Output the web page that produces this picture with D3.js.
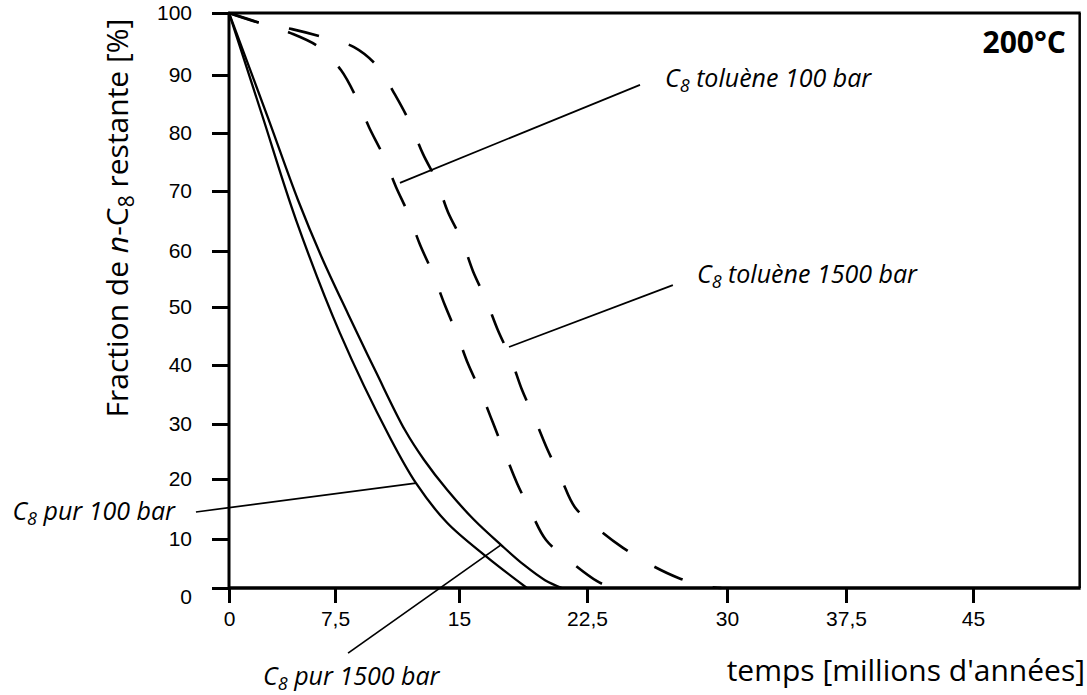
<!DOCTYPE html>
<html><head><meta charset="utf-8">
<script src="https://cdn.jsdelivr.net/npm/d3@7"></script>
<style>body{margin:0;background:#fff}svg{display:block}</style>
</head><body><svg id="c" width="1087" height="695"></svg>
<script>
// ---- data ----
const xTicks = [0, 7.5, 15, 22.5, 30, 37.5, 45];
const yTicks = [0, 10, 20, 30, 40, 50, 60, 70, 80, 90, 100];
const xMax = 51.3;
// C8 pur 1500 bar (left solid)
const purA = [[0,100],[2.34,83.1],[4.74,65.2],[7.8,45.5],[10.83,27.5],[12.4,19.3],[14.28,12.7],[16.64,6.3],[18.98,0]];
// C8 pur 100 bar (right solid)
const purB = [[0,100],[2.76,82.6],[4.88,68.5],[6.58,58.75],[8.29,48.8],[9.98,38.8],[11.73,28.9],[12.88,23.5],[14.28,18.2],[15.88,13.2],[17.46,8.8],[18.81,4.7],[20.04,1.6],[21.03,0]];
// C8 toluène 100 bar (left dashed)
const tolA = [[0,100],[2.19,98.4],[4.32,96.8],[6.37,94.5],[7.86,90.8],[8.77,86.2],[9.56,81.0],[10.4,76.2],[11.19,70.7],[11.92,66.3],[12.65,61],[13.43,55.9],[14.15,50.3],[14.88,45.3],[15.53,40.2],[16.29,35.3],[16.99,30.2],[17.69,24.7],[18.4,19.3],[19.22,14.5],[20.1,9.8],[21.5,5.5],[23.04,1.4],[23.84,0]];
// C8 toluène 1500 bar (right dashed)
const tolB = [[0,100],[2.19,98.4],[4.46,97.4],[6.65,96.1],[8.65,94.5],[10.1,91.3],[11.13,86.6],[12.04,81.7],[12.82,76.4],[13.67,71.6],[14.33,66.5],[15.18,61.7],[15.82,56.4],[16.58,51.3],[17.28,46.0],[18.05,41.0],[18.69,35.8],[19.45,30.8],[20.15,25.6],[20.97,20.2],[21.79,15.3],[23.09,11.7],[24.43,8.2],[25.93,4.7],[27.43,2.0],[28.8,0.4],[29.7,0]];
// annotations
const labels = [
  {pre:"C", sub:"8", post:" toluène 100 bar", from:[11.43,71.4], to:[25.34,88.3], at:[26.68,87.9], anchor:"start"},
  {pre:"C", sub:"8", post:" toluène 1500 bar", from:[17.93,43.1], to:[27.1,53.9], at:[28.39,54.3], anchor:"start"},
  {pre:"C", sub:"8", post:" pur 100 bar", from:[12.4,19.3], to:[-2.34,14.5], at:[-3.82,13.2], anchor:"end"},
  {pre:"C", sub:"8", post:" pur 1500 bar", from:[17.46,8.8], to:[8.29,-13.3], at:[2.41,-19.8], anchor:"start"}
];

// ---- scales ----
const x = d3.scaleLinear().domain(xTicks).range([229, 335, 459, 587, 727, 846, 973]);
const y = d3.scaleLinear().domain(yTicks).range([588, 539, 479, 424, 365, 307, 251, 191, 133, 75, 13]);

const svg = d3.select('#c');
const tickFont = '"Liberation Sans", Arial, sans-serif';
const labFont = '"Open Sans", "Noto Sans", sans-serif';

// axes
const gx = svg.append('g').attr('transform', `translate(0,${y(0)})`)
  .call(d3.axisBottom(x).tickValues(xTicks).tickSize(15).tickPadding(8)
    .tickFormat(d => String(d).replace('.', ',')));
gx.select('.domain').remove();
gx.selectAll('line').attr('stroke', '#000').attr('stroke-width', 3);
gx.selectAll('text').attr('font-family', tickFont).attr('font-size', 21).attr('fill', '#000');

const gy = svg.append('g').attr('transform', `translate(${x(0)},0)`)
  .call(d3.axisLeft(y).tickValues(yTicks).tickSize(17).tickPadding(20));
gy.select('.domain').remove();
gy.selectAll('line').attr('stroke', '#000').attr('stroke-width', 3);
gy.selectAll('text').attr('font-family', tickFont).attr('font-size', 21).attr('fill', '#000')
  .attr('dy', d => d === 0 ? '0.72em' : '0.32em');

// frame
const frame = svg.append('g').attr('stroke', '#000').attr('fill', 'none');
frame.append('line').attr('x1', x(0)).attr('x2', x(0)).attr('y1', y(100) - 1).attr('y2', y(0)).attr('stroke-width', 3);
frame.append('line').attr('x1', x(0) - 1).attr('x2', x(xMax) + 1).attr('y1', y(0)).attr('y2', y(0)).attr('stroke-width', 3.5);
frame.append('line').attr('x1', x(0) - 1).attr('x2', x(xMax) + 1).attr('y1', y(100)).attr('y2', y(100)).attr('stroke-width', 3);
frame.append('line').attr('x1', x(xMax)).attr('x2', x(xMax)).attr('y1', y(100)).attr('y2', y(0)).attr('stroke-width', 2.5);

// curves
const line = d3.line().x(d => x(d[0])).y(d => y(d[1])).curve(d3.curveCatmullRom.alpha(0.5));
const curves = svg.append('g').attr('fill', 'none').attr('stroke', '#000');
curves.append('path').datum(purA).attr('d', line).attr('stroke-width', 2.3);
curves.append('path').datum(purB).attr('d', line).attr('stroke-width', 2.3);
curves.append('path').datum(tolA).attr('d', line).attr('stroke-width', 2.6).attr('stroke-dasharray', '31,31');
curves.append('path').datum(tolB).attr('d', line).attr('stroke-width', 2.6).attr('stroke-dasharray', '31,31');

// annotations
const ann = svg.append('g');
labels.forEach(l => {
  ann.append('line').attr('x1', x(l.from[0])).attr('y1', y(l.from[1]))
    .attr('x2', x(l.to[0])).attr('y2', y(l.to[1]))
    .attr('stroke', '#000').attr('stroke-width', 1.7);
  const t = ann.append('text').attr('x', x(l.at[0])).attr('y', y(l.at[1]))
    .attr('text-anchor', l.anchor).attr('font-family', labFont).attr('font-style', 'italic')
    .attr('font-size', 25).attr('fill', '#000');
  t.append('tspan').text(l.pre);
  t.append('tspan').attr('font-size', 18).attr('dy', 5).text(l.sub);
  t.append('tspan').attr('dy', -5).text(l.post);
});

// titles
svg.append('text').attr('x', 1085).attr('y', 681).attr('text-anchor', 'end')
  .attr('font-family', labFont).attr('font-size', 30).attr('fill', '#000')
  .text("temps [millions d'années]");

const yt = svg.append('text').attr('transform', 'translate(128,218) rotate(-90)')
  .attr('text-anchor', 'middle').attr('font-family', labFont).attr('font-size', 30).attr('fill', '#000');
yt.append('tspan').text('Fraction de ');
yt.append('tspan').attr('font-style', 'italic').text('n');
yt.append('tspan').text('-C');
yt.append('tspan').attr('font-size', 21).attr('dy', 6).text('8');
yt.append('tspan').attr('dy', -6).text(' restante [%]');

svg.append('text').attr('x', 1066).attr('y', 53).attr('text-anchor', 'end')
  .attr('font-family', labFont).attr('font-weight', 'bold').attr('font-size', 30).attr('fill', '#000')
  .text('200°C');
</script></body></html>
